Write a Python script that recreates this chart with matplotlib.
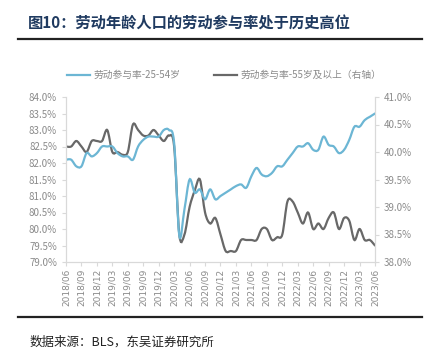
import matplotlib.pyplot as plt
from matplotlib.ticker import FuncFormatter
from matplotlib.path import Path
from matplotlib.patches import PathPatch
from matplotlib.lines import Line2D
import numpy as np

plt.rcParams['font.family'] = ['Noto Sans CJK SC', 'DejaVu Sans']

# ---- data (monthly, 2018/06 - 2023/06) ----
months = []
for y in range(2018, 2024):
    for m in range(1, 13):
        if (y == 2018 and m < 6) or (y == 2023 and m > 6):
            continue
        months.append(f'{y}/{m:02d}')

lfpr_25_54 = [82.1, 82.1, 81.9, 81.9, 82.3, 82.2, 82.3, 82.5, 82.5, 82.5,
              82.3, 82.2, 82.2, 82.1, 82.5, 82.7, 82.8, 82.8, 82.8, 83.0,
              83.0, 82.6, 79.8, 80.6, 81.5, 81.1, 81.2, 80.9, 81.2, 80.9,
              81.0, 81.1, 81.2, 81.3, 81.35, 81.25, 81.6, 81.85, 81.65, 81.6,
              81.7, 81.9, 81.9, 82.1, 82.3, 82.5, 82.5, 82.6, 82.4, 82.4,
              82.8, 82.55, 82.5, 82.3, 82.4, 82.7, 83.1, 83.1, 83.3, 83.4,
              83.5]

lfpr_55_plus = [40.1, 40.1, 40.2, 40.1, 40.0, 40.2, 40.2, 40.2, 40.4, 40.0,
                40.0, 39.95, 40.0, 40.5, 40.4, 40.3, 40.3, 40.4, 40.3, 40.2,
                40.3, 40.1, 38.5, 38.5, 39.0, 39.3, 39.5, 38.9, 38.7, 38.8,
                38.5, 38.2, 38.2, 38.2, 38.4, 38.4, 38.4, 38.4, 38.6, 38.6,
                38.4, 38.45, 38.5, 39.1, 39.1, 38.9, 38.7, 38.9, 38.6, 38.7,
                38.6, 38.8, 38.9, 38.6, 38.8, 38.75, 38.4, 38.6, 38.4, 38.4,
                38.3]

blue = '#6cb6d4'
grey = '#686868'
tick_grey = '#8a8a8a'
spine_grey = '#d9d9d9'


def smooth_path(xs, ys):
    # Excel-like smoothed line: Bezier segments through the data points
    xs = np.asarray(xs, float)
    ys = np.asarray(ys, float)
    n = len(xs)
    verts = [(xs[0], ys[0])]
    codes = [Path.MOVETO]
    for i in range(n - 1):
        i0 = max(i - 1, 0)
        i3 = min(i + 2, n - 1)
        c1 = (xs[i] + (xs[i + 1] - xs[i0]) / 6, ys[i] + (ys[i + 1] - ys[i0]) / 6)
        c2 = (xs[i + 1] - (xs[i3] - xs[i]) / 6, ys[i + 1] - (ys[i3] - ys[i]) / 6)
        verts += [c1, c2, (xs[i + 1], ys[i + 1])]
        codes += [Path.CURVE4] * 3
    return Path(verts, codes)


fig = plt.figure(figsize=(4.31, 3.56), dpi=100)

# title + rules
fig.text(28 / 431, 1 - 24 / 356, '图10：劳动年龄人口的劳动参与率处于历史高位',
         fontsize=11, fontweight='bold', color='#1f3a60', va='center', ha='left')
fig.add_artist(Line2D([18 / 431, 422 / 431], [1 - 39 / 356] * 2,
                      color='#222222', linewidth=1.6))
fig.add_artist(Line2D([18 / 431, 422 / 431], [1 - 317 / 356] * 2,
                      color='#222222', linewidth=1.6))
fig.text(30 / 431, 1 - 342 / 356, '数据来源：BLS，东吴证券研究所',
         fontsize=9, color='#222222', va='center', ha='left')

ax = fig.add_axes([66 / 431, 1 - 262 / 356, 309 / 431, 165 / 356])
ax2 = ax.twinx()

x = np.arange(len(months))
ax.add_patch(PathPatch(smooth_path(x, lfpr_25_54), facecolor='none',
                       edgecolor=blue, linewidth=1.6, capstyle='round'))
ax2.add_patch(PathPatch(smooth_path(x, lfpr_55_plus), facecolor='none',
                        edgecolor=grey, linewidth=1.6, capstyle='round'))
ax2.set_zorder(ax.get_zorder() - 1)
ax.patch.set_visible(False)
ax.set_zorder(ax2.get_zorder() + 1)

ax.set_xlim(0, len(months) - 1)
ax.set_ylim(79, 84)
ax2.set_ylim(38, 41)
ax.set_yticks(np.arange(79, 84.01, 0.5))
ax2.set_yticks(np.arange(38, 41.01, 0.5))
ax.yaxis.set_major_formatter(FuncFormatter(lambda v, p: f'{v:.1f}%'))
ax2.yaxis.set_major_formatter(FuncFormatter(lambda v, p: f'{v:.1f}%'))

ax.set_xticks(x[::3])
ax.set_xticklabels(months[::3], rotation=90, fontsize=6.5, color=tick_grey,
                   family=['DejaVu Sans'])

for a in (ax, ax2):
    a.spines['top'].set_visible(False)
    for s in ('left', 'right', 'bottom'):
        a.spines[s].set_color(spine_grey)
        a.spines[s].set_linewidth(0.8)
    a.tick_params(axis='y', labelsize=7, labelcolor=tick_grey, color=spine_grey,
                  length=3, width=0.8)
    a.tick_params(axis='x', color=spine_grey, length=3, width=0.8, pad=2)

h1 = Line2D([], [], color=blue, linewidth=1.6)
h2 = Line2D([], [], color=grey, linewidth=1.6)
fig.legend(handles=[h1, h2],
           labels=['劳动参与率-25-54岁', '劳动参与率-55岁及以上（右轴）'],
           loc='center', bbox_to_anchor=(0.52, 1 - 75 / 356),
           ncol=2, frameon=False, fontsize=7, handlelength=2.4,
           columnspacing=3.5, labelcolor=tick_grey, handletextpad=0.3)

fig.savefig('out.png', dpi=100)
